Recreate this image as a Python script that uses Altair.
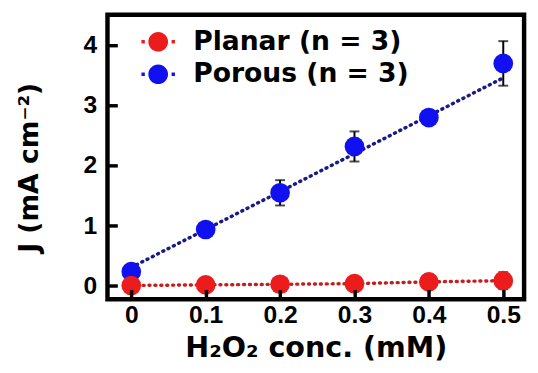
import altair as alt
import pandas as pd

# ---- data ----
conc = [0, 0.1, 0.2, 0.3, 0.4, 0.5]
planar_j = [0.0, 0.01, 0.02, 0.03, 0.06, 0.08]
planar_err = [0.08, 0.10, 0.10, 0.10, 0.12, 0.14]
porous_j = [0.23, 0.93, 1.54, 2.31, 2.79, 3.69]
porous_err = [0.10, 0.06, 0.21, 0.25, 0.05, 0.37]
fit_x = [0, 0.5]
fit_j = [0.30, 3.45]
series = ["Planar (n = 3)", "Porous (n = 3)"]
x_ticks = [0, 0.1, 0.2, 0.3, 0.4, 0.5]
y_ticks = [0, 1, 2, 3, 4]

RED = "#ec1c1c"
BLUE = "#1010f0"
RED_LINE = "#c41e1e"
BLUE_LINE = "#1a1a86"

rows = []
for s, js, es in [(series[0], planar_j, planar_err), (series[1], porous_j, porous_err)]:
    for c, j, e in zip(conc, js, es):
        rows.append({"series": s, "conc": c, "j": j, "lo": j - e, "hi": j + e})
df = pd.DataFrame(rows)
planar = df[df.series == series[0]]
porous = df[df.series == series[1]]
fit_df = pd.DataFrame({"conc": fit_x, "j": fit_j})

LABEL_FONT = "Liberation Sans"
TITLE_FONT = "DejaVu Sans"

xscale = alt.Scale(domain=[-0.032, 0.528], nice=False, zero=False)
yscale = alt.Scale(domain=[-0.23, 4.5], nice=False, zero=False)

xaxis = alt.Axis(values=x_ticks, format="~g", grid=False, domain=False,
                 offset=-10, tickSize=10, tickWidth=3.5, tickColor="black",
                 labelFont=LABEL_FONT, labelFontSize=25, labelFontWeight="bold",
                 labelColor="black", labelPadding=4, labelFlush=False,
                 title="H\u2082O\u2082 conc. (mM)", titleFont=TITLE_FONT,
                 titleFontSize=29, titleFontWeight="bold", titleColor="black",
                 titlePadding=6, zindex=2)
yaxis = alt.Axis(values=y_ticks, format="~g", grid=False, domain=False,
                 offset=-10, tickSize=10, tickWidth=3.5, tickColor="black",
                 labelFont=LABEL_FONT, labelFontSize=25, labelFontWeight="bold",
                 labelColor="black", labelPadding=11,
                 title="J (mA cm\u207b\u00b2)", titleFont=TITLE_FONT,
                 titleFontSize=27, titleFontWeight="bold", titleColor="black",
                 titlePadding=40, titleY=155, zindex=2)

X = alt.X("conc:Q", scale=xscale, axis=xaxis)
Y = alt.Y("j:Q", scale=yscale, axis=yaxis)

legend_path = ("M-1,0A1,1,0,1,1,1,0A1,1,0,1,1,-1,0Z"
               "M-1.7,-0.17h0.34v0.34h-0.34Z"
               "M1.36,-0.17h0.34v0.34h-0.34Z")

color = alt.Color("series:N",
                  scale=alt.Scale(domain=series, range=[RED, BLUE]),
                  legend=alt.Legend(orient="none", legendX=38, legendY=14,
                                    title=None, symbolType=legend_path,
                                    symbolSize=400, symbolStrokeWidth=0,
                                    symbolOpacity=1, labelLimit=0,
                                    labelFont=TITLE_FONT, labelFontSize=27,
                                    labelFontWeight="bold", labelColor="black",
                                    labelOffset=22, rowPadding=5, padding=0))


def group(data, line_chart):
    err = alt.Chart(data).mark_rule(color="black", strokeWidth=2).encode(
        x=X, y=alt.Y("lo:Q", scale=yscale, axis=yaxis), y2="hi:Q")
    caps = alt.Chart(data).transform_fold(["lo", "hi"], as_=["k", "v"]).mark_tick(
        color="black", thickness=2, size=10, orient="horizontal").encode(
        x=X, y=alt.Y("v:Q", scale=yscale, axis=yaxis))
    pts = alt.Chart(data).mark_circle(size=400, opacity=1).encode(
        x=X, y=Y, color=color)
    return [line_chart, err, caps, pts]


porous_line = alt.Chart(fit_df).mark_line(
    color=BLUE_LINE, strokeWidth=3.5, strokeDash=[1, 5], strokeCap="round").encode(
    x=X, y=Y)
planar_line = alt.Chart(planar).mark_line(
    color=RED_LINE, strokeWidth=3.5, strokeDash=[1, 5], strokeCap="round").encode(
    x=X, y=Y)

layers = group(porous, porous_line) + group(planar, planar_line)

chart = alt.layer(*layers).properties(
    width=423, height=289,
    padding={"left": 101, "top": 4, "right": 6, "bottom": 70},
    autosize=alt.AutoSizeParams(type="none"),
    background="white",
).configure_view(stroke="black", strokeWidth=4.5)

chart.save("out.html", embed_options={"renderer": "svg", "actions": False})
